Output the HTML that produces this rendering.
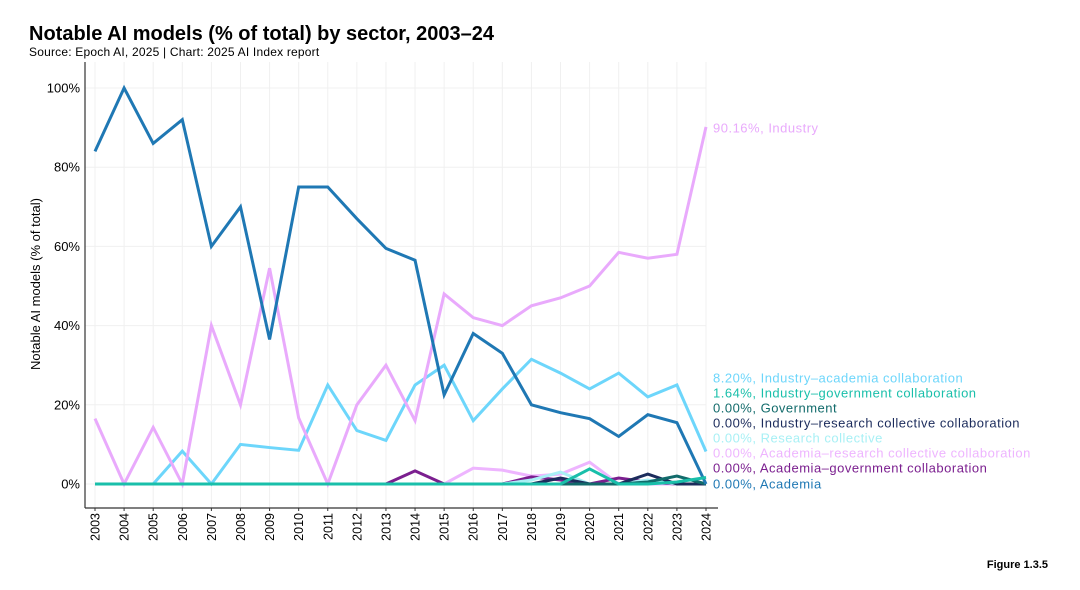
<!DOCTYPE html>
<html><head><meta charset="utf-8"><style>
body{margin:0;background:#fff;font-family:"Liberation Sans",sans-serif}
#wrap{position:relative;width:1080px;height:590px;overflow:hidden}
</style></head><body>
<div id="wrap">
<svg id="chart" width="1080" height="590" style="position:absolute;left:0;top:0">
<text x="29" y="40" font-size="20" font-weight="bold" fill="#000">Notable AI models (% of total) by sector, 2003–24</text>
<text x="29" y="56" font-size="12" letter-spacing="0.2" fill="#000">Source: Epoch AI, 2025 | Chart: 2025 AI Index report</text>
<text x="1048" y="568" font-size="11" font-weight="bold" text-anchor="end" fill="#000">Figure 1.3.5</text>
<text transform="translate(40,284) rotate(-90)" font-size="13" text-anchor="middle" fill="#000">Notable AI models (% of total)</text>
<g id="grid"></g><g id="series"></g><g id="axes"></g><g id="labels"></g>
</svg>
</div>
<script>
const years=[2003,2004,2005,2006,2007,2008,2009,2010,2011,2012,2013,2014,2015,2016,2017,2018,2019,2020,2021,2022,2023,2024];
const yTicks=[0,20,40,60,80,100];
const academia=[84,100,86,92,60,70,36.5,75,75,67,59.5,56.5,22.5,38,33,20,18,16.5,12,17.5,15.5,0];
const industry=[16.5,0,14.3,0,40,20,54.5,16.7,0,20,30,16,48,42,40,45,47,50,58.5,57,58,90.16];
const indAcad=[0,0,0,8.3,0,10,9.2,8.5,25,13.5,11,25,30,16,24,31.5,28,24,28,22,25,8.2];
const acadResColl=[0,0,0,0,0,0,0,0,0,0,0,0,0,4,3.5,2,2.5,5.5,0,0,0,0];
const acadGov=[0,0,0,0,0,0,0,0,0,0,0,3.3,0,0,0,1.8,1,0,1.5,0.5,0,0];
const resColl=[0,0,0,0,0,0,0,0,0,0,0,0,0,0,0,1,3,0,0,1,0,0];
const indResColl=[0,0,0,0,0,0,0,0,0,0,0,0,0,0,0,0,1.5,0,0,2.5,0,0];
const government=[0,0,0,0,0,0,0,0,0,0,0,0,0,0,0,0,0,0,0,0.5,2,0];
const indGov=[0,0,0,0,0,0,0,0,0,0,0,0,0,0,0,0,0,3.8,0,0,0.5,1.64];
const NS="http://www.w3.org/2000/svg";
const x0=95,x1=706,yb=484,yt=88;
function xs(y){return x0+(y-years[0])*(x1-x0)/(years[years.length-1]-years[0]);}
function ys(v){return yb-v*(yb-yt)/100;}
function mk(tag,attrs,parent){const e=document.createElementNS(NS,tag);for(const k in attrs)e.setAttribute(k,attrs[k]);parent.appendChild(e);return e;}
const grid=document.getElementById('grid'),axes=document.getElementById('axes'),ser=document.getElementById('series'),lab=document.getElementById('labels');
years.forEach(y=>{
  const l=mk('line',{x1:xs(y),x2:xs(y),y1:62,y2:508,stroke:'#f0f0f0','stroke-width':1},grid);
  
  
  const t=mk('text',{transform:`translate(${xs(y)+4.5},513) rotate(-90)`,'font-size':12.5,'text-anchor':'end',fill:'#000'},axes);
  t.textContent=y;
  
  
  const tk=mk('line',{x1:xs(y),x2:xs(y),y1:508,y2:511,stroke:'#333'},axes);
  
  
});
yTicks.forEach(v=>{
  const l=mk('line',{x1:85,x2:706,y1:ys(v),y2:ys(v),stroke:'#f0f0f0','stroke-width':1},grid);
  
  
  const t=mk('text',{x:80,y:ys(v)+4.5,'font-size':13,'text-anchor':'end',fill:'#000'},axes);
  t.textContent=v+'%';
  
  
});
const ya=mk('line',{x1:85,x2:85,y1:62,y2:508,stroke:'#333','stroke-width':1.2},axes);


const xa=mk('line',{x1:85,x2:718,y1:508,y2:508,stroke:'#333','stroke-width':1.2},axes);


const draw=[[acadResColl,'#eeb5ff','academia-research-collective-line'],[acadGov,'#7b1f8f','academia-government-line'],[resColl,'#a8f0f5','research-collective-line'],[indResColl,'#1c2c5c','industry-research-collective-line'],[government,'#126b6b','government-line'],[indAcad,'#6dd6fb','industry-academia-line'],[industry,'#e9aafc','industry-line'],[academia,'#1f78b4','academia-line'],[indGov,'#19bfaa','industry-government-line']];
draw.forEach(([d,c,n])=>{
  const p=mk('polyline',{points:d.map((v,i)=>xs(years[i])+','+ys(v)).join(' '),fill:'none',stroke:c,'stroke-width':3,'stroke-linejoin':'miter'},ser);
  
  
});
const legend=[[industry,'Industry','#e9aafc',128],[indAcad,'Industry–academia collaboration','#6dd6fb',378],[indGov,'Industry–government collaboration','#19bfaa',393],[government,'Government','#126b6b',408],[indResColl,'Industry–research collective collaboration','#1c2c5c',423],[resColl,'Research collective','#a8f0f5',438],[acadResColl,'Academia–research collective collaboration','#eeb5ff',453],[acadGov,'Academia–government collaboration','#7b1f8f',468],[academia,'Academia','#1f78b4',484]];
legend.forEach(([d,n,c,y])=>{
  const t=mk('text',{x:713,y:y+4.5,'font-size':13,'letter-spacing':0.5,fill:c},lab);
  t.textContent=d[d.length-1].toFixed(2)+'%, '+n;
  
  
});
</script>
</body></html>
